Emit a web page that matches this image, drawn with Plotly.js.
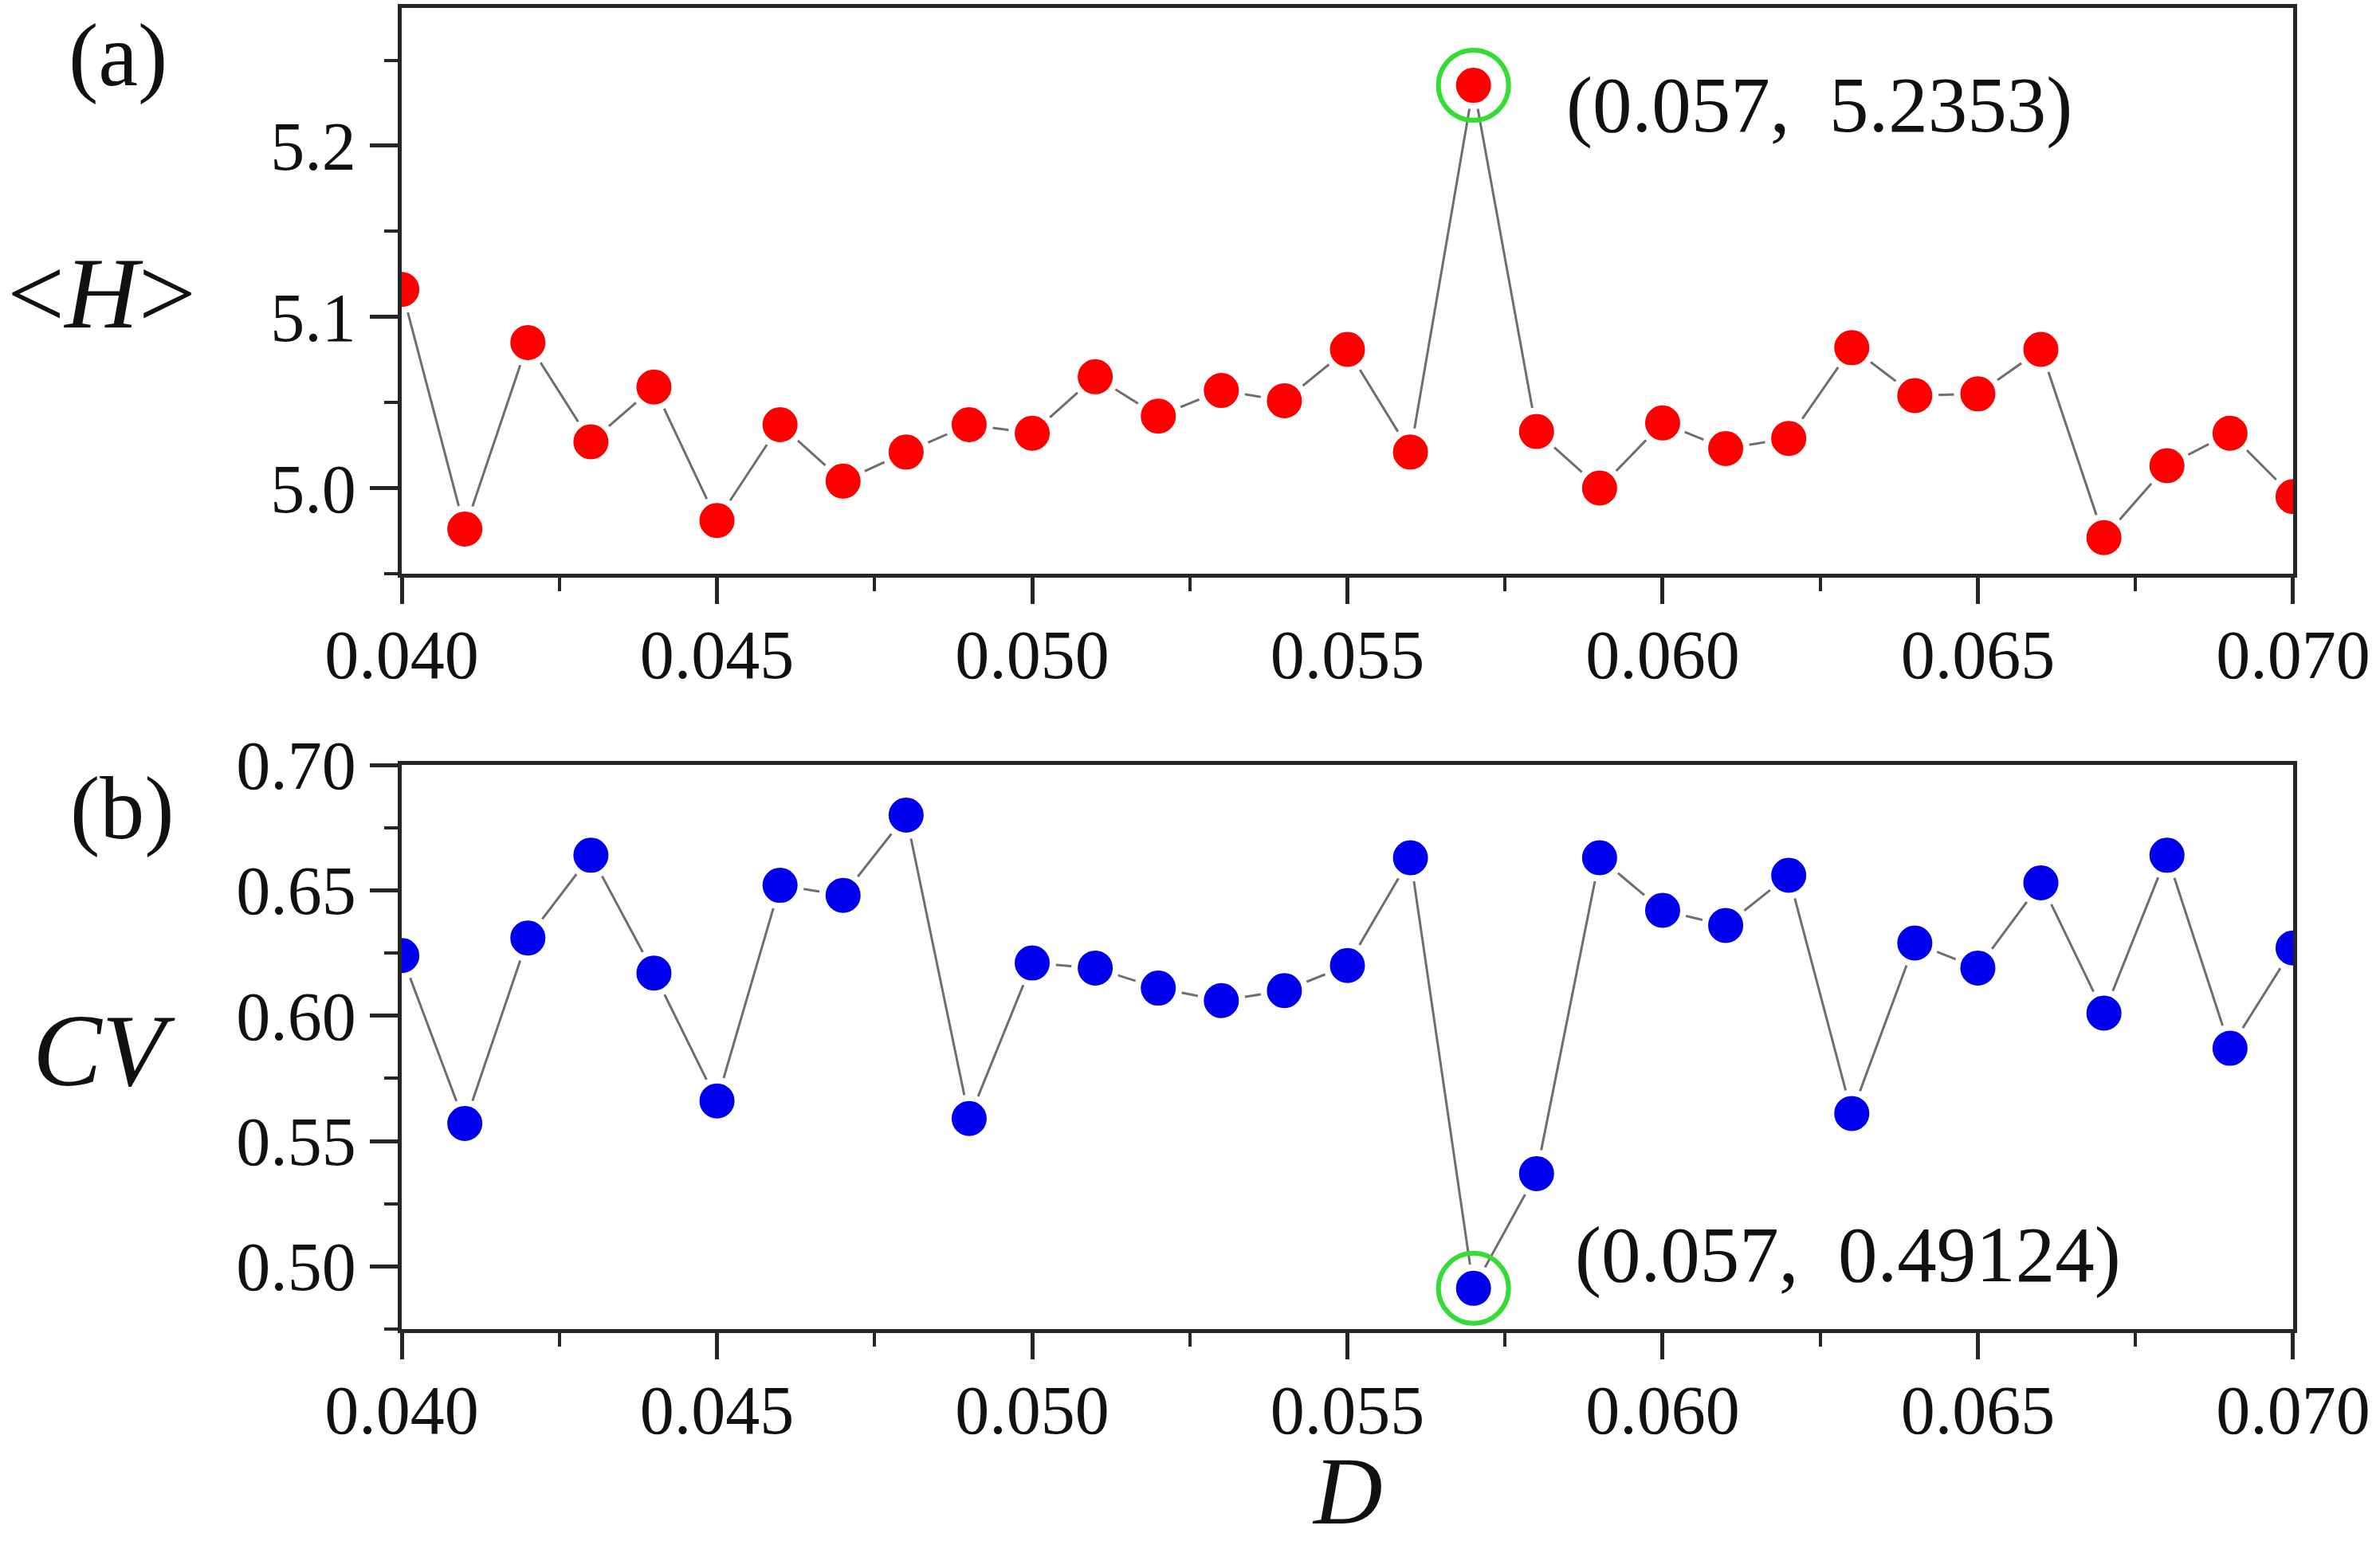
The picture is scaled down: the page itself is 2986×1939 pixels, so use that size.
<!DOCTYPE html>
<html>
<head>
<meta charset="utf-8">
<script src="https://cdn.plot.ly/plotly-3.0.1.min.js"></script>
<style>html,body{margin:0;padding:0;background:#fff;}#chart{width:2986px;height:1939px;}</style>
</head>
<body>
<div id="chart"></div>
<script>
// Noise intensity D
const D = [0.040, 0.041, 0.042, 0.043, 0.044, 0.045, 0.046, 0.047, 0.048, 0.049,
           0.050, 0.051, 0.052, 0.053, 0.054, 0.055, 0.056, 0.057, 0.058, 0.059,
           0.060, 0.061, 0.062, 0.063, 0.064, 0.065, 0.066, 0.067, 0.068, 0.069, 0.070];
// (a) <H>
const H = [5.116, 4.976, 5.085, 5.027, 5.059, 4.981, 5.037, 5.004, 5.021, 5.037,
           5.032, 5.065, 5.042, 5.057, 5.051, 5.081, 5.021, 5.2353, 5.033, 5.000,
           5.038, 5.023, 5.029, 5.082, 5.054, 5.055, 5.081, 4.971, 5.013, 5.032, 4.995];
// (b) CV
const CV = [0.624, 0.557, 0.631, 0.664, 0.617, 0.566, 0.652, 0.648, 0.680, 0.559,
            0.621, 0.619, 0.611, 0.606, 0.610, 0.620, 0.663, 0.49124, 0.537, 0.663,
            0.642, 0.636, 0.656, 0.561, 0.629, 0.619, 0.653, 0.601, 0.664, 0.587, 0.627];

const panelLabels = ['(a)', '(b)'];
const xTitle = '<i>D</i>';
const yTitleA = '&lt;<i>H</i>&gt;';
const yTitleB = '<i>CV</i>';

const iMax = H.indexOf(Math.max(...H));
const iMin = CV.indexOf(Math.min(...CV));

const FONT = "'Liberation Serif', 'Times New Roman', serif";
const AX = '#262626';
const GREEN = '#36dc36';

function lineTrace(x, y, color, xa, ya) {
  return {
    x: x, y: y, xaxis: xa, yaxis: ya, type: 'scatter', mode: 'lines+markers',
    line: {color: '#6e6e6e', width: 3},
    marker: {color: color, size: 52, line: {color: '#ffffff', width: 8}},
    hoverinfo: 'x+y', showlegend: false
  };
}
function ringTrace(x, y, xa, ya) {
  return {
    x: [x], y: [y], xaxis: xa, yaxis: ya, type: 'scatter', mode: 'markers',
    marker: {symbol: 'circle-open', size: 88, color: GREEN, line: {color: GREEN, width: 6}},
    showlegend: false, hoverinfo: 'skip'
  };
}

const traces = [
  lineTrace(D, H, '#ff0000', 'x', 'y'),
  ringTrace(D[iMax], H[iMax], 'x', 'y'),
  lineTrace(D, CV, '#0000ee', 'x2', 'y2'),
  ringTrace(D[iMin], CV[iMin], 'x2', 'y2')
];

function xAxis(anchor) {
  return {
    anchor: anchor, domain: [0, 1], range: [0.039999, 0.070001],
    tick0: 0.04, dtick: 0.005, tickformat: '.3f',
    ticks: 'outside', ticklen: 33, tickwidth: 5, tickcolor: AX,
    ticklabelstandoff: -10,
    minor: {dtick: 0.0025, ticks: 'outside', ticklen: 17, tickwidth: 4, tickcolor: AX},
    showline: true, mirror: true, linecolor: AX, linewidth: 5,
    showgrid: false, zeroline: false,
    tickfont: {family: FONT, size: 86, color: '#111'}
  };
}
function yAxis(anchor, domain, range, tick0, dtick, minorDtick, fmt) {
  return {
    anchor: anchor, domain: domain, range: range,
    tick0: tick0, dtick: dtick, tickformat: fmt,
    ticks: 'outside', ticklen: 35, tickwidth: 5, tickcolor: AX,
    minor: {dtick: minorDtick, ticks: 'outside', ticklen: 17, tickwidth: 4, tickcolor: AX},
    showline: true, mirror: true, linecolor: AX, linewidth: 5,
    showgrid: false, zeroline: false,
    tickfont: {family: FONT, size: 86, color: '#111'}
  };
}

const annFont = {family: FONT, size: 99, color: '#111'};
const layout = {
  width: 2986, height: 1939,
  margin: {l: 504, r: 109, t: 10, b: 271},
  paper_bgcolor: '#ffffff', plot_bgcolor: '#ffffff',
  showlegend: false,
  xaxis: xAxis('y'),
  yaxis: yAxis('x', [0.5718, 1], [4.94995, 5.2805], 5.0, 0.1, 0.05, '.1f'),
  xaxis2: xAxis('y2'),
  yaxis2: yAxis('x2', [0, 0.427], [0.47499, 0.70001], 0.5, 0.05, 0.025, '.2f'),
  annotations: [
    {xref: 'x', yref: 'y', x: 0.05845, y: 5.2235, xanchor: 'left', yanchor: 'middle',
     text: '(' + D[iMax].toFixed(3) + ',  ' + H[iMax] + ')', showarrow: false, font: annFont},
    {xref: 'x2', yref: 'y2', x: 0.05858, y: 0.5045, xanchor: 'left', yanchor: 'middle',
     text: '(' + D[iMin].toFixed(3) + ',  ' + CV[iMin] + ')', showarrow: false, font: annFont},
    {xref: 'paper', yref: 'paper', x: -0.1585, y: 0.7841, xanchor: 'center', yanchor: 'middle',
     text: yTitleA, showarrow: false, font: {family: FONT, size: 128, color: '#111'}},
    {xref: 'paper', yref: 'paper', x: -0.1575, y: 0.2111, xanchor: 'center', yanchor: 'middle',
     text: yTitleB, showarrow: false, font: {family: FONT, size: 130, color: '#111'}},
    {xref: 'paper', yref: 'paper', x: -0.150, y: 0.9645, xanchor: 'center', yanchor: 'middle',
     text: panelLabels[0], showarrow: false, font: {family: FONT, size: 112, color: '#111'}},
    {xref: 'paper', yref: 'paper', x: -0.1475, y: 0.3945, xanchor: 'center', yanchor: 'middle',
     text: panelLabels[1], showarrow: false, font: {family: FONT, size: 112, color: '#111'}},
    {xref: 'paper', yref: 'paper', x: 0.5002, y: -0.123, xanchor: 'center', yanchor: 'middle',
     text: xTitle, showarrow: false, font: {family: FONT, size: 120, color: '#111'}}
  ]
};

Plotly.newPlot('chart', traces, layout, {displayModeBar: false, staticPlot: true});
</script>
</body>
</html>
